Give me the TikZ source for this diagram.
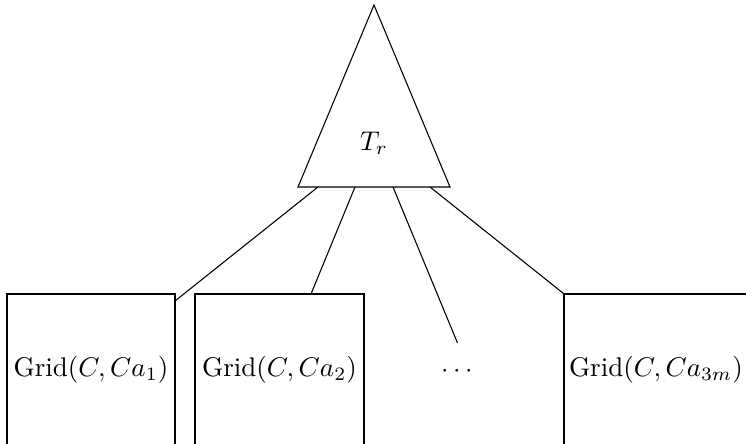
\documentclass[tikz,border=0pt]{standalone}
\begin{document}
\begin{tikzpicture}[x=0.37pt,y=-0.37pt,
  gridbox/.style={draw,line width=0.4pt,minimum height=152*0.37pt,inner sep=0pt},
  edge/.style={line width=0.4pt}]
\useasboundingbox (0,0) rectangle (746,444);
\clip (0,0) rectangle (746,444);
% triangle
\coordinate (apex) at (374,5);
\coordinate (bl) at (298,187);
\coordinate (br) at (450,187);
\draw[edge] (apex) -- (bl) -- (br) -- cycle;
\node (T) at (374,143) {$T_r$};
% base points
\coordinate (t1) at (318,187);
\coordinate (t2) at (355,187);
\coordinate (t3) at (393,187);
\coordinate (t4) at (430,187);
% boxes
\node[gridbox,minimum width=168*0.37pt] (b1) at (91,370) {Grid$(C,Ca_1)$};
\node[gridbox,minimum width=169*0.37pt] (b2) at (279.5,370) {Grid$(C,Ca_2)$};
\node[gridbox,minimum width=184*0.37pt] (b3) at (656,370) {Grid$(C,Ca_{3m})$};
\node (dots) at (457,372) {$\cdots$};
% connector ends
\coordinate (e1) at (175,301);
\coordinate (e2) at (311,294);
\coordinate (e3) at (457.5,343);
\draw[edge] (t1) -- (e1);
\draw[edge] (t2) -- (e2);
\draw[edge] (t3) -- (e3);
\draw[edge] (t4) -- (b3.north west);
\end{tikzpicture}
\end{document}
